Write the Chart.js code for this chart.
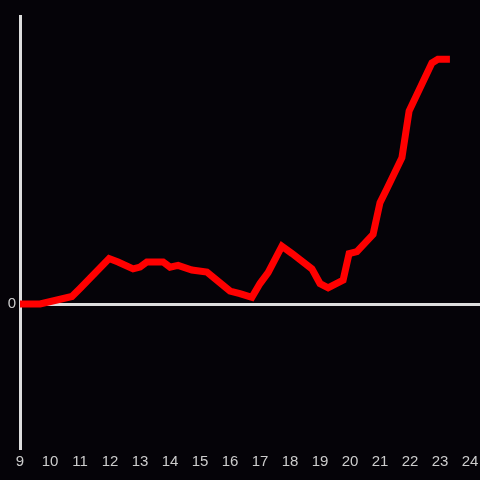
<!DOCTYPE html>
<html>
<head>
<meta charset="utf-8">
<script src="https://cdn.jsdelivr.net/npm/chart.js@4/dist/chart.umd.min.js"></script>
<style>
html,body{margin:0;padding:0;background:#050308;}
#wrap{width:480px;height:480px;}
</style>
</head>
<body>
<div id="wrap"><canvas id="c" width="480" height="480"></canvas></div>
<script>
const hours = [9, 9.67, 10.73, 11.0, 11.97, 12.27, 12.77, 13.0, 13.23, 13.77, 14.0, 14.27, 14.73, 15.23, 16.0, 16.33, 16.73, 17.0, 17.27, 17.73, 18.07, 18.73, 19.0, 19.27, 19.77, 19.97, 20.23, 20.77, 21.0, 21.23, 21.73, 21.97, 22.73, 22.93, 23.33];
const values = [0, 0, 2.6, 5.4, 15.8, 14.6, 12.2, 12.8, 14.6, 14.6, 12.8, 13.4, 11.8, 11.1, 4.5, 3.6, 2.3, 7.1, 10.9, 20.1, 17.5, 12.2, 7.1, 5.6, 8.3, 17.5, 18.2, 24.2, 35.2, 40.0, 50.8, 67.0, 83.7, 85.0, 85.0];
const xTickLabels = [9, 10, 11, 12, 13, 14, 15, 16, 17, 18, 19, 20, 21, 22, 23, 24];
const yTickLabels = [0];

const pts = hours.map((h, i) => ({x: h, y: values[i]}));
const bgPlugin = {
  id: 'bg',
  beforeDraw(chart) {
    const ctx = chart.ctx;
    ctx.save();
    ctx.fillStyle = '#050308';
    ctx.fillRect(0, 0, chart.width, chart.height);
    ctx.restore();
  }
};

new Chart(document.getElementById('c'), {
  type: 'line',
  data: {
    datasets: [{
      data: pts,
      borderColor: '#ff0000',
      borderWidth: 7,
      pointRadius: 0,
      tension: 0,
      fill: false
    }]
  },
  options: {
    responsive: false,
    animation: false,
    layout: {padding: {top: 16, right: 0, left: 0, bottom: 0}},
    plugins: {legend: {display: false}, tooltip: {enabled: false}},
    scales: {
      x: {
        type: 'linear',
        min: 9,
        max: 24.333,
        afterBuildTicks: s => { s.ticks = xTickLabels.map(v => ({value: v})); },
        afterFit: s => { s.height = 32; s.paddingRight = 0; s.paddingLeft = 0; },
        grid: {display: false, drawTicks: false},
        border: {display: false},
        ticks: {color: '#cccccc', font: {family: 'Liberation Sans', size: 15}, padding: 5, maxRotation: 0, autoSkip: false}
      },
      y: {
        min: -50,
        max: 100,
        afterBuildTicks: s => { s.ticks = yTickLabels.map(v => ({value: v})); },
        afterFit: s => { s.width = 20; s.paddingTop = 0; s.paddingBottom = 0; },
        grid: {color: '#dddddd', lineWidth: 3, drawTicks: false},
        border: {display: true, color: '#dddddd', width: 3},
        ticks: {color: '#cccccc', font: {family: 'Liberation Sans', size: 15}, padding: 4}
      }
    }
  },
  plugins: [bgPlugin]
});
</script>
</body>
</html>
